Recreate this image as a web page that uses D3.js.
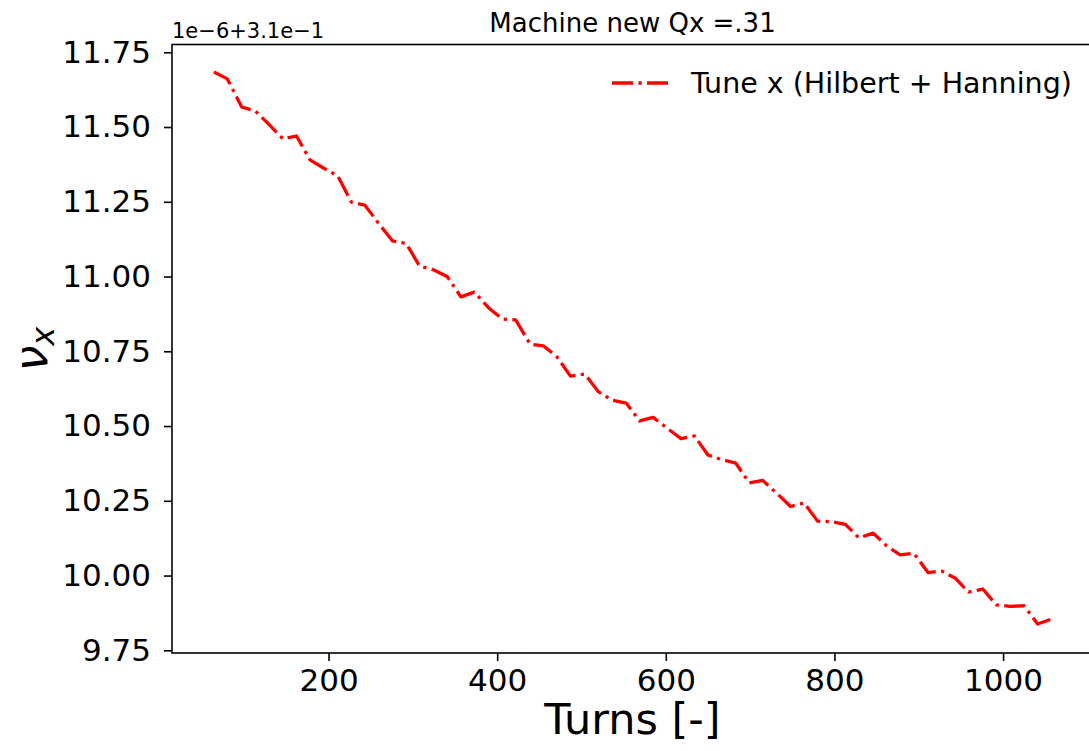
<!DOCTYPE html>
<html>
<head>
<meta charset="utf-8">
<script src="https://cdn.jsdelivr.net/npm/d3@7"></script>
<style>
  html, body { margin: 0; padding: 0; background: #ffffff; }
  svg { display: block; font-family: "DejaVu Sans", sans-serif; }
</style>
</head>
<body>
<svg id="chart" width="1089" height="751"></svg>
<script>
// ---- data ----
const turns = [64, 80, 97, 113, 129, 146, 162, 178, 194, 211, 227, 243, 259, 276, 292, 308,
  325, 341, 357, 373, 390, 406, 422, 439, 455, 471, 487, 504, 520, 536, 553, 569, 585, 601,
  618, 634, 650, 666, 683, 699, 715, 732, 748, 764, 780, 797, 813, 829, 846, 862, 878, 894,
  911, 927, 943, 959, 976, 992, 1008, 1025, 1041, 1057];
// tune values in units of 1e-6 on top of the 0.31 offset
const tuneX = [11.684, 11.661, 11.567, 11.554, 11.510, 11.460, 11.470, 11.390, 11.363, 11.336,
  11.249, 11.239, 11.179, 11.119, 11.111, 11.035, 11.022, 10.999, 10.932, 10.948, 10.895,
  10.858, 10.855, 10.774, 10.768, 10.731, 10.667, 10.674, 10.615, 10.587, 10.577, 10.517,
  10.529, 10.494, 10.458, 10.467, 10.403, 10.388, 10.376, 10.310, 10.318, 10.274, 10.231,
  10.243, 10.182, 10.180, 10.171, 10.126, 10.142, 10.099, 10.069, 10.075, 10.010, 10.015,
  9.992, 9.945, 9.955, 9.902, 9.897, 9.899, 9.838, 9.854];
const xTicks = [200, 400, 600, 800, 1000];
const yTicks = [9.75, 10.00, 10.25, 10.50, 10.75, 11.00, 11.25, 11.50, 11.75];
const seriesName = "Tune x (Hilbert + Hanning)";
const titleText = "Machine new Qx =.31";
const offsetText = "1e\u22126+3.1e\u22121";
const xLabel = "Turns [-]";

// ---- layout ----
const svg = d3.select("#chart");
const plot = { left: 172, right: 1093, top: 44.5, bottom: 653 };
const x = d3.scaleLinear().domain([14.35, 1106.65]).range([plot.left, plot.right]);
const y = d3.scaleLinear().domain([9.741, 11.776]).range([plot.bottom, plot.top]);

const red = "#ff0000";
const lw = 3.3;
const dash = [6.4 * lw, 1.6 * lw, 1.0 * lw, 1.6 * lw].join(",");

// data line
const data = turns.map((t, i) => ({ t, v: tuneX[i] }));
const line = d3.line().x(d => x(d.t)).y(d => y(d.v));
svg.append("path")
  .datum(data)
  .attr("d", line)
  .attr("fill", "none")
  .attr("stroke", red)
  .attr("stroke-width", lw)
  .attr("stroke-dasharray", dash)
  .attr("stroke-linejoin", "round")
  .attr("stroke-linecap", "butt");

// axes
const xAxis = d3.axisBottom(x).tickValues(xTicks).tickFormat(d3.format("d"))
  .tickSizeInner(8).tickSizeOuter(0).tickPadding(8);
const gx = svg.append("g").attr("transform", `translate(0,${plot.bottom})`).call(xAxis);
const yAxis = d3.axisLeft(y).tickValues(yTicks).tickFormat(d3.format(".2f"))
  .tickSizeInner(8).tickSizeOuter(0).tickPadding(13);
const gy = svg.append("g").attr("transform", `translate(${plot.left},0)`).call(yAxis);
[gx, gy].forEach(g => {
  g.select(".domain").remove();
  g.selectAll(".tick line").attr("stroke", "#000").attr("stroke-width", 1.6);
  g.selectAll(".tick text").attr("fill", "#000")
    .style("font-family", "DejaVu Sans").style("font-size", "31px");
});

// frame (spines)
svg.append("rect")
  .attr("x", plot.left).attr("y", plot.top)
  .attr("width", plot.right - plot.left).attr("height", plot.bottom - plot.top)
  .attr("fill", "none").attr("stroke", "#000").attr("stroke-width", 1.6);

// title & offset text
svg.append("text").attr("x", (plot.left + plot.right) / 2).attr("y", 32)
  .attr("text-anchor", "middle").style("font-size", "26px").attr("fill", "#000")
  .text(titleText);
svg.append("text").attr("x", plot.left).attr("y", 38)
  .attr("text-anchor", "start").style("font-size", "21px").attr("fill", "#000")
  .text(offsetText);

// axis labels
svg.append("text").attr("x", (plot.left + plot.right) / 2).attr("y", 734)
  .attr("text-anchor", "middle").style("font-size", "43px").attr("fill", "#000")
  .text(xLabel);
const yl = svg.append("text")
  .attr("transform", "translate(47,349) rotate(-90)")
  .attr("text-anchor", "middle").style("font-size", "46px").attr("fill", "#000");
yl.append("tspan").style("font-style", "italic").text("\u03bd");
yl.append("tspan").style("font-style", "italic").style("font-size", "32px")
  .attr("dy", "0.22em").text("x");

// legend
const legX0 = 612, legX1 = 668, legY = 83;
svg.append("line").attr("x1", legX0).attr("x2", legX1).attr("y1", legY).attr("y2", legY)
  .attr("stroke", red).attr("stroke-width", lw).attr("stroke-dasharray", dash);
svg.append("text").attr("x", 691).attr("y", legY).attr("dy", "0.35em")
  .style("font-size", "28.5px").attr("fill", "#000").text(seriesName);
</script>
</body>
</html>
